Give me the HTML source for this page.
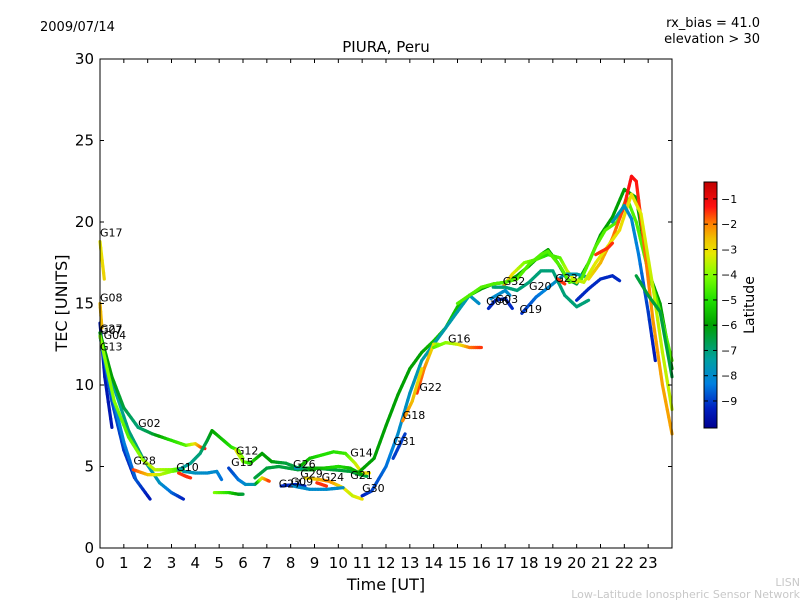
<!DOCTYPE html>
<html><head><meta charset="utf-8"><style>
body{margin:0;background:#fff;}
svg{display:block;font-family:"DejaVu Sans","Liberation Sans",sans-serif;}
</style></head><body>
<svg id="chart" width="800" height="600" viewBox="0 0 800 600" xmlns="http://www.w3.org/2000/svg">
<defs>
<linearGradient id="cmap" x1="0" y1="0" x2="0" y2="1">
<stop offset="0" stop-color="#c00000"/><stop offset="0.1" stop-color="#ff1010"/><stop offset="0.17" stop-color="#ff8000"/><stop offset="0.23" stop-color="#f0c000"/><stop offset="0.29" stop-color="#e8e800"/><stop offset="0.38" stop-color="#80ff00"/><stop offset="0.48" stop-color="#20e000"/><stop offset="0.58" stop-color="#00a000"/><stop offset="0.72" stop-color="#00a0a0"/><stop offset="0.82" stop-color="#0080e0"/><stop offset="0.92" stop-color="#0020c0"/><stop offset="1" stop-color="#000090"/>
</linearGradient>
</defs>
<text x="40" y="31" font-size="13">2009/07/14</text>
<text x="760" y="27" font-size="13" text-anchor="end">rx_bias = 41.0</text>
<text x="760" y="43" font-size="13" text-anchor="end">elevation &gt; 30</text>
<text x="386" y="52" font-size="15" text-anchor="middle">PIURA, Peru</text>
<text x="386" y="590" font-size="16" text-anchor="middle">Time [UT]</text>
<text x="67" y="303" font-size="16" text-anchor="middle" transform="rotate(-90 67 303)">TEC [UNITS]</text>
<g id="marks"></g>
<rect x="100" y="59" width="572" height="489" fill="none" stroke="#000" stroke-width="1"/>
<g id="axes"></g>
<rect x="704" y="182" width="13" height="246" fill="url(#cmap)" stroke="#000" stroke-width="1"/>
<g id="cbticks"></g>
<text x="754" y="305" font-size="14" text-anchor="middle" transform="rotate(-90 754 305)">Latitude</text>
<text x="800" y="586" font-size="11" fill="#c8c8c8" text-anchor="end">LISN</text>
<text x="800" y="598" font-size="11" fill="#c8c8c8" text-anchor="end">Low-Latitude Ionospheric Sensor Network</text>
</svg>
<script>
const xTicks=[0,1,2,3,4,5,6,7,8,9,10,11,12,13,14,15,16,17,18,19,20,21,22,23];
const yTicks=[0,5,10,15,20,25,30];
const latTicks=[-1,-2,-3,-4,-5,-6,-7,-8,-9];
const trackNames=["T1","T2","T3","T4","G02","TY","G28","TR","TB","TL","TF","G15","G12","TG","G14","G26","G29","G27","G09","G24",
"R1","R2","G22","G18","G16","G31","G06","G03","G32","G19","G20","R3","RP","RO","RT","RG","G23","RB","RS","G17","G08"];
const trackTimes=[
[0,0.2,0.5],[0,0.5,1,1.45],[0,0.5,1,1.5,2.1],[0,0.6,1.2,1.8,2.5,3.0,3.5],
[0,0.5,1.0,1.6,2.2,3,3.6,4.0,4.2,4.4],[0,0.6,1.2,1.8,2.3,3,3.5],[1.4,2,2.5,3,3.5],[3.3,3.6,3.8],
[3.3,3.8,4.2,4.5,4.7,5.1,5.5,5.8,6.0],[3.5,4.0,4.5,4.9,5.1],[4.8,5.4,5.8,6.0],[5.4,5.8,6.1,6.5,6.8,7.1],
[5.7,6.0,6.3,6.8,7.2,7.8,8.5,9.0],[6.5,7.0,7.5,8.3,9,9.8,10.5,10.9,11.2],[8.3,8.8,9.3,9.8,10.3,10.7,11.0,11.3],
[8.2,8.8,9.4,10,10.5,11.0],[8.6,9.2,9.6,10.2,10.6,11.0],[7.6,8.2,8.6],[8.1,8.8,9.5,10.2],[9.1,9.5],
[10.9,11.5,12,12.5,13,13.5,14,14.5,15,15.5,16,16.5,17,17.5,18,18.5,18.8,19.2,19.6,20,20.5,21,21.5,22,22.5,23,23.5,24],
[11.0,11.4,12,12.5,13,13.5,14,14.5,15,15.5,15.9],[13.3,13.6,14.0,14.2],[12.7,13.1,13.5],[14,14.5,15,15.5,16],[12.3,12.8],
[16.3,16.6,17,17.3],[16.4,17.0,17.2],[16.9,17.3,17.8,18.3,18.8,19.3,19.6,20],[17.7,18.3,19,19.5,20,20.5],
[16.5,17,17.5,18,18.5,19,19.5,20,20.5],
[15,15.5,16,16.5,17,17.5,18,18.5,18.8,19.3,19.7,20.2,20.8,21.2,21.7,22.1,22.5,23,23.5,24],
[20.5,21,21.5,22,22.3,22.5,22.8,23.2,23.6,24],[19.8,20.3,20.8,21.3,21.8,22.3,22.7,23.2,23.6,24],
[21.5,22,22.3,22.6,23,23.3],[22.5,23,23.5,24],[19.2,19.5],[20,20.5,21,21.5,21.8],[20.8,21.3,21.5],[0,0.18],[0,0.08]];
const trackTec=[
[13.8,10.5,7.4],[13,9,6,4.3],[13,9.5,6.5,4.2,3.0],[13.2,9.8,7.2,5.5,4.0,3.4,3.0],
[13.2,10.5,8.6,7.4,7.0,6.6,6.3,6.4,6.2,6.1],[13,9,6.8,5.4,4.8,4.8,4.9],[4.8,4.5,4.5,4.7,4.8],[4.6,4.4,4.3],
[4.8,5.2,5.8,6.6,7.2,6.7,6.2,6.0,5.5],[4.7,4.6,4.6,4.7,4.2],[3.4,3.4,3.3,3.3],[4.9,4.2,3.9,3.9,4.3,4.1],
[6.0,5.3,5.2,5.8,5.3,5.2,4.8,4.8],[4.3,4.9,5.0,4.8,4.9,4.8,4.7,4.5,4.4],[4.9,5.5,5.7,5.9,5.8,5.2,4.6,4.6],
[4.9,4.9,4.9,5.0,4.9,4.5],[4.3,4.2,4.1,3.7,3.2,3.0],[3.8,3.9,3.8],[3.8,3.6,3.6,3.7],[4.0,3.8],
[4.7,5.5,7.5,9.4,11,12,12.7,13.5,14.8,15.5,15.9,16.2,16.3,16.7,17.3,18,18.3,17.5,16.5,16.2,17.5,19.2,20.3,22.0,21.5,17,15,11],
[3.2,3.5,5,7,9.5,11.5,12.5,13.5,14.5,15.5,15.0],[9.5,11,12.5,12.5],[7.8,9,11],[12.3,12.6,12.5,12.3,12.3],[5.5,7],
[14.7,15.2,15.3,14.7],[15.3,15.8,15.5],[16,16.8,17.5,17.7,18,17.8,17.0,16.3],[14.4,15.4,16.2,16.8,16.8,16.6],
[16,16,15.8,16.3,17,17,15.5,14.8,15.2],
[15,15.5,16,16.2,16.3,16.5,17.4,18,18.2,17.3,16.3,16.5,18.5,19.5,20.0,21.5,20,17,14.5,11.5],
[16.5,17.5,19,21,22.8,22.5,19,14,10,7],[16.5,16.3,17.5,18.5,19.5,21.7,20.5,16,12,8.5],
[20.0,21,20.2,18,14.5,11.5],[16.7,15.5,14.5,10.5],[16.5,16.2],[15.2,15.9,16.5,16.7,16.4],[18,18.4,18.7],[18.8,16.5],[15.0,13.5]];
const trackLat=[
[-9.5,-9.5,-9.5],[-8.5,-8.8,-9,-9.3],[-8,-8,-8.3,-8.7,-9.5],[-8,-7.5,-7,-7,-7.8,-8.5,-9.3],
[-6,-6,-6.5,-7,-6.5,-5,-4.5,-3,-2,-1.3],[-4,-4,-4.5,-3.8,-3.5,-4,-5],[-1.5,-2.5,-3.5,-4,-5],[-1.5,-1.5,-1.5],
[-7.5,-7.2,-7,-6.5,-6,-5.5,-5,-4.5,-4],[-7.5,-7.8,-8,-8,-8.5],[-4,-5,-6,-6.5],[-9,-8.5,-8,-7.5,-3,-1.5],
[-3,-4,-5,-6,-6,-6.5,-6.5,-6],[-6.5,-6.5,-6.5,-6.5,-6.5,-6.5,-6.5,-6.5,-6.5],[-6,-5.5,-5,-5,-4.8,-3.5,-3,-3],
[-8,-6,-5.5,-5,-5.5,-6],[-3,-2.5,-2,-3,-3.5,-3],[-9.2,-9.2,-9.2],[-8,-8,-8,-8],[-1.5,-1.5],
[-6,-6,-6,-6,-6,-6,-5.5,-5.5,-5.5,-5.5,-6,-6,-6,-6,-6,-6,-6,-6,-6.5,-6.5,-6,-6,-6,-6,-6,-6,-6,-6],
[-9.3,-9,-8.5,-8,-7.8,-7.5,-7.5,-7.5,-7.5,-7.5,-8],[-1.5,-2,-3,-4],[-2,-2.5,-3],[-4.5,-4,-3.5,-2,-1.5],[-9,-9],
[-9.2,-9.2,-9.2,-9.2],[-8,-8,-8],[-2,-3,-4,-4.5,-5,-4.5,-3.5,-3],[-9.2,-8.5,-8,-7.8,-7.5,-7.5],
[-7,-7,-7,-7,-7,-7,-7,-7,-7],
[-4.5,-4.5,-4.5,-4.5,-4.5,-4.5,-4.5,-4.5,-4.5,-4.5,-4.5,-4.5,-4.5,-4.5,-4.5,-4.5,-4.5,-4.5,-4.5,-4.5],
[-3,-2.5,-2,-1.5,-1.2,-1.3,-1.8,-2.2,-2.3,-2.3],[-3.5,-3.5,-3.2,-3.2,-3,-3,-3.2,-3.5,-3.5,-3.5],
[-7.5,-7.8,-8,-8.3,-9,-9.5],[-6.5,-6.5,-6.5,-6.5],[-1.5,-1.5],[-9.2,-9.2,-9.2,-9.2,-9.2],[-1.5,-1.5,-1.5],[-3.2,-2.8],[-2.5,-2.5]];
const labelNames=["G17","G08","G27","G07","G04","G13","G02","G28","G10","G15","G12","G26","G27","G29","G09","G24","G14","G21","G30","G31","G18","G22","G16","G06","G03","G19","G32","G20","G23"];
const labelTimes=[0,0,0,0,0.15,0,1.6,1.4,3.2,5.5,5.7,8.1,7.5,8.4,8.0,9.3,10.5,10.5,11.0,12.3,12.7,13.4,14.6,16.2,16.6,17.6,16.9,18.0,19.1];
const labelTec=[19.0,15.0,13.1,13.0,12.7,12.0,7.3,5.0,4.6,4.9,5.6,4.8,3.6,4.2,3.7,4.0,5.5,4.1,3.3,6.2,7.8,9.5,12.5,14.8,14.9,14.3,16.0,15.7,16.2];

const NS="http://www.w3.org/2000/svg";
const X0=100,X1=672,Y0=548,Y1=59;
const xs=t=>X0+(t/24)*(X1-X0);
const ys=v=>Y0-(v/30)*(Y0-Y1);
const latMax=-0.33,latMin=-10.07,CB0=182,CB1=428;
const cbY=l=>CB0+(latMax-l)/(latMax-latMin)*(CB1-CB0);
const stops=[[0,[192,0,0]],[0.1,[255,16,16]],[0.17,[255,128,0]],[0.23,[240,192,0]],[0.29,[232,232,0]],[0.38,[128,255,0]],[0.48,[32,224,0]],[0.58,[0,160,0]],[0.72,[0,160,160]],[0.82,[0,128,224]],[0.92,[0,32,192]],[1,[0,0,144]]];
function cmap(l){let f=(latMax-l)/(latMax-latMin);f=Math.max(0,Math.min(1,f));
for(let i=1;i<stops.length;i++){if(f<=stops[i][0]){const a=stops[i-1],b=stops[i];const u=(f-a[0])/(b[0]-a[0]);
const c=a[1].map((v,k)=>Math.round(v+(b[1][k]-v)*u));return `rgb(${c[0]},${c[1]},${c[2]})`;}}return "rgb(0,0,144)";}
const marks=document.getElementById('marks');
trackNames.forEach((nm,i)=>{
 const g=document.createElementNS(NS,'g');
 
 
 const T=trackTimes[i],V=trackTec[i],L=trackLat[i];
 for(let j=0;j<T.length-1;j++){
  const n=6;
  for(let k=0;k<n;k++){
   const u0=k/n,u1=(k+1)/n;
   const ln=document.createElementNS(NS,'line');
   ln.setAttribute('x1',xs(T[j]+(T[j+1]-T[j])*u0));ln.setAttribute('y1',ys(V[j]+(V[j+1]-V[j])*u0));
   ln.setAttribute('x2',xs(T[j]+(T[j+1]-T[j])*u1));ln.setAttribute('y2',ys(V[j]+(V[j+1]-V[j])*u1));
   ln.setAttribute('stroke',cmap(L[j]+(L[j+1]-L[j])*(u0+u1)/2));
   ln.setAttribute('stroke-width','3.2');ln.setAttribute('stroke-linecap','round');
   
   
   g.appendChild(ln);
  }
 }
 marks.appendChild(g);
});
labelNames.forEach((nm,i)=>{
 const t=document.createElementNS(NS,'text');
 t.setAttribute('x',xs(labelTimes[i]));t.setAttribute('y',ys(labelTec[i])-2);
 t.setAttribute('font-size','11');t.textContent=nm;
 
 
 marks.appendChild(t);
});
const axes=document.getElementById('axes');
function ln(x1,y1,x2,y2,p){const l=document.createElementNS(NS,'line');l.setAttribute('x1',x1);l.setAttribute('y1',y1);l.setAttribute('x2',x2);l.setAttribute('y2',y2);l.setAttribute('stroke','#000');p.appendChild(l);return l;}
xTicks.forEach(v=>{const x=xs(v);
 const a=ln(x,Y0,x,Y0-4,axes);
 
 
 const b=ln(x,Y1,x,Y1+4,axes);
 
 
 const t=document.createElementNS(NS,'text');t.setAttribute('x',x);t.setAttribute('y',568);t.setAttribute('font-size','15');t.setAttribute('text-anchor','middle');t.textContent=v;
 
 
 axes.appendChild(t);});
yTicks.forEach(v=>{const y=ys(v);
 const a=ln(X0,y,X0+4,y,axes);
 
 
 const b=ln(X1,y,X1-4,y,axes);
 
 
 const t=document.createElementNS(NS,'text');t.setAttribute('x',94);t.setAttribute('y',y+5);t.setAttribute('font-size','15');t.setAttribute('text-anchor','end');t.textContent=v;
 
 
 axes.appendChild(t);});
const cbt=document.getElementById('cbticks');
latTicks.forEach(v=>{const y=cbY(v);
 const a=ln(704,y,708,y,cbt);
 
 
 const b=ln(717,y,713,y,cbt);
 
 
 const t=document.createElementNS(NS,'text');t.setAttribute('x',721);t.setAttribute('y',y+4);t.setAttribute('font-size','11');t.textContent='\u2212'+Math.abs(v);
 
 
 cbt.appendChild(t);});
</script>
</body></html>
